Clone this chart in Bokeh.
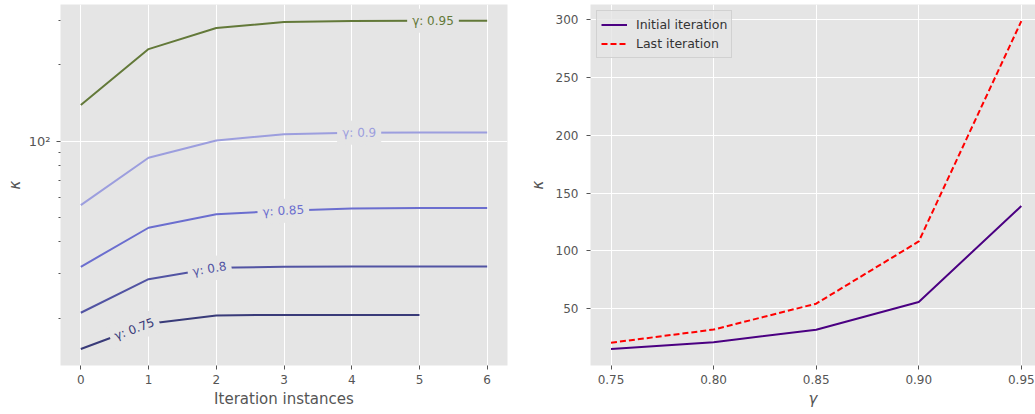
import numpy as np
from bokeh.plotting import figure
from bokeh.layouts import row
from bokeh.models import (FixedTicker, NumeralTickFormatter, Legend, LegendItem,
                          ColumnDataSource, Range1d, CustomJSTickFormatter)
from bokeh.core.properties import value
from bokeh.embed import file_html
from bokeh.resources import INLINE

# ---------------- data ----------------
gammas = [0.75, 0.80, 0.85, 0.90, 0.95]
gamma_labels = ["γ: 0.75", "γ: 0.8", "γ: 0.85", "γ: 0.9", "γ: 0.95"]
kappa_075 = [15.1, 19.0, 20.5, 20.6, 20.6, 20.6]
kappa_080 = [21.0, 28.5, 31.6, 31.9, 32.0, 32.0, 32.0]
kappa_085 = [31.9, 45.5, 51.4, 53.1, 54.2, 54.4, 54.4]
kappa_090 = [55.9, 86.0, 100.6, 106.5, 108.0, 108.2, 108.2]
kappa_095 = [138.8, 231.0, 279.7, 295.2, 298.5, 298.8, 298.8]
kappa_series = [kappa_075, kappa_080, kappa_085, kappa_090, kappa_095]
initial_kappa = [s[0] for s in kappa_series]
last_kappa = [s[-1] for s in kappa_series]
iteration_ticks = [0, 1, 2, 3, 4, 5, 6]
gamma_ticks = [0.75, 0.80, 0.85, 0.90, 0.95]
kappa_ticks = [50, 100, 150, 200, 250, 300]

# ---------------- styles ----------------
line_colors = ["#393b79", "#5254a3", "#6b6ecf", "#9c9ede", "#637939"]
label_x = [0.79, 1.9, 2.99, 4.11, 5.2]
BG = "#E5E5E5"
TICK_C = "#555555"
FONT = "DejaVu Sans"

LX0, LX1 = -0.3, 6.3
LY0, LY1 = 13.0, 346.5
L_FW, L_FH = 447, 361


def style(p):
    p.background_fill_color = BG
    p.border_fill_color = "white"
    p.outline_line_color = None
    p.grid.grid_line_color = "white"
    p.grid.grid_line_width = 1
    for ax in p.axis:
        ax.axis_line_color = None
        ax.major_tick_line_color = TICK_C
        ax.minor_tick_line_color = TICK_C
        ax.major_tick_in = 0
        ax.major_tick_out = 4
        ax.minor_tick_in = 0
        ax.minor_tick_out = 2
        ax.major_label_text_font = FONT
        ax.major_label_text_font_size = "12px"
        ax.major_label_text_color = TICK_C
        ax.axis_label_text_font = FONT
        ax.axis_label_text_font_size = "15px"
        ax.axis_label_text_color = TICK_C
        ax.axis_label_text_font_style = "normal"


# ---------------- left panel ----------------
p1 = figure(frame_width=L_FW, frame_height=L_FH, y_axis_type="log",
            x_range=Range1d(LX0, LX1), y_range=Range1d(LY0, LY1),
            min_border_left=60, min_border_right=8, min_border_top=4, min_border_bottom=49,
            output_backend="svg", toolbar_location=None)
style(p1)
p1.xaxis.ticker = FixedTicker(ticks=iteration_ticks)
p1.yaxis.ticker = FixedTicker(ticks=[100], minor_ticks=[20, 30, 40, 50, 60, 70, 80, 90, 200, 300])
p1.yaxis.formatter = CustomJSTickFormatter(code="""
const e = Math.round(Math.log10(tick));
const sup = {'0':'⁰','1':'¹','2':'²','3':'³','4':'⁴','5':'⁵','6':'⁶','7':'⁷','8':'⁸','9':'⁹'};
return '10' + String(e).split('').map(c => sup[c]).join('');
""")
p1.yaxis.major_label_text_font_size = "13px"
p1.xaxis.axis_label = "Iteration instances"
p1.yaxis.axis_label = "κ"
p1.yaxis.axis_label_text_font_style = "italic"
p1.xaxis.major_label_standoff = 5
p1.xaxis.axis_label_standoff = 3
p1.yaxis.major_label_standoff = 6
p1.yaxis.axis_label_standoff = 2

px_per_x = L_FW / (LX1 - LX0)
px_per_dec = L_FH / (np.log10(LY1) - np.log10(LY0))

lab_y, lab_ang = [], []
for ys, lx, col in zip(kappa_series, label_x, line_colors):
    xs = np.arange(len(ys))
    p1.line(xs, ys, line_color=col, line_width=2)
    logy = np.log10(ys)
    lab_y.append(10 ** np.interp(lx, xs, logy))
    i = int(np.floor(lx))
    dy = (logy[i + 1] - logy[i]) * px_per_dec
    lab_ang.append(float(np.arctan2(dy, px_per_x)))

lab_src = ColumnDataSource(dict(x=label_x, y=lab_y, text=gamma_labels,
                                angle=lab_ang, color=line_colors))
p1.text(x="x", y="y", text="text", angle="angle", source=lab_src,
        text_color="color", text_font=value(FONT), text_font_size="12px",
        text_align="center", text_baseline="middle",
        background_fill_color=BG, padding=5)

# ---------------- right panel ----------------
RX0 = 0.74
R_FW = 445
RX1 = RX0 + R_FW / 2051.5
p2 = figure(frame_width=R_FW, frame_height=L_FH,
            x_range=Range1d(RX0, RX1), y_range=Range1d(0.9, 313.2),
            min_border_left=75, min_border_right=0, min_border_top=4, min_border_bottom=49,
            output_backend="svg", toolbar_location=None)
style(p2)
p2.xaxis.ticker = FixedTicker(ticks=gamma_ticks)
p2.xaxis.formatter = NumeralTickFormatter(format="0.00")
p2.yaxis.ticker = FixedTicker(ticks=kappa_ticks)
p2.xaxis.axis_label = "γ"
p2.yaxis.axis_label = "κ"
p2.xaxis.axis_label_text_font_style = "italic"
p2.yaxis.axis_label_text_font_style = "italic"
p2.xaxis.major_label_standoff = 5
p2.xaxis.axis_label_standoff = 3
p2.yaxis.major_label_standoff = 8
p2.yaxis.axis_label_standoff = 6

r_init = p2.line(gammas, initial_kappa, line_color="#4B0082", line_width=2)
r_last = p2.line(gammas, last_kappa, line_color="#FF0000", line_width=2, line_dash="6 3")

legend = Legend(items=[LegendItem(label="Initial iteration", renderers=[r_init]),
                       LegendItem(label="Last iteration", renderers=[r_last])],
                location="top_left", margin=6, padding=4, spacing=0,
                glyph_width=26, glyph_height=19, label_height=19, label_standoff=9,
                label_text_font=FONT, label_text_font_size="12.5px",
                label_text_color="#333333",
                background_fill_color=BG, background_fill_alpha=0.8,
                border_line_color="#CCCCCC", border_line_alpha=0.8)
p2.add_layout(legend)

layout = row(p1, p2, spacing=0)
open("out.html", "w").write(file_html(layout, INLINE))
